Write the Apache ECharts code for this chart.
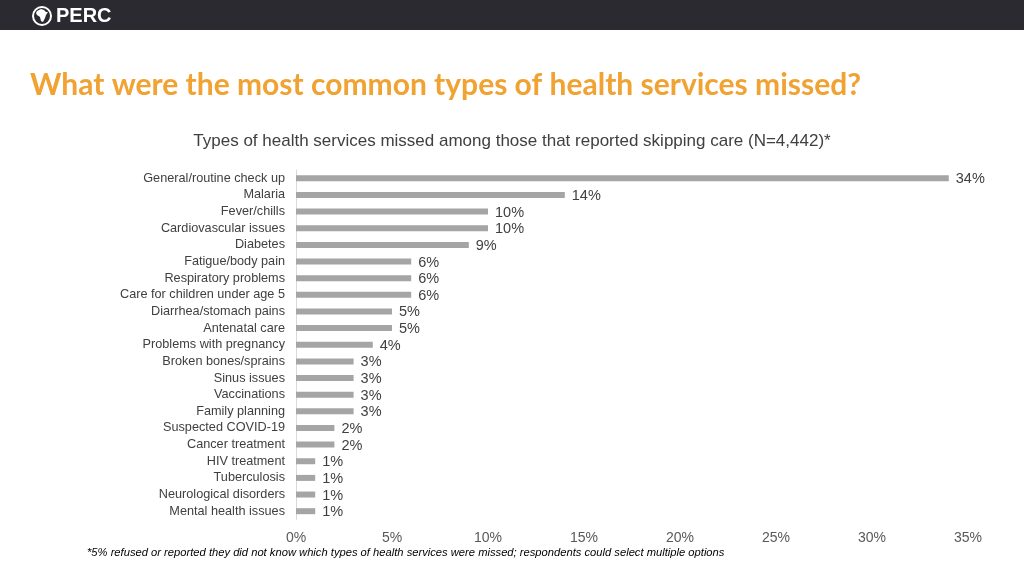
<!DOCTYPE html>
<html>
<head>
<meta charset="utf-8">
<script src="https://cdn.jsdelivr.net/npm/echarts@6/dist/echarts.min.js"></script>
<style>
html,body{margin:0;padding:0;background:#fff;}
#chart{width:1024px;height:576px;}
</style>
</head>
<body>
<div id="chart"></div>
<script>
const categories = [
  "General/routine check up","Malaria","Fever/chills","Cardiovascular issues","Diabetes",
  "Fatigue/body pain","Respiratory problems","Care for children under age 5","Diarrhea/stomach pains",
  "Antenatal care","Problems with pregnancy","Broken bones/sprains","Sinus issues","Vaccinations",
  "Family planning","Suspected COVID-19","Cancer treatment","HIV treatment","Tuberculosis",
  "Neurological disorders","Mental health issues"
];
const values = [34,14,10,10,9,6,6,6,5,5,4,3,3,3,3,2,2,1,1,1,1];
const xTicks = { min: 0, max: 35, interval: 5 };
const titleText = "What were the most common types of health services missed?";
const subtitleText = "Types of health services missed among those that reported skipping care (N=4,442)*";
const footnoteText = "*5% refused or reported they did not know which types of health services were missed; respondents could select multiple options";

const chart = echarts.init(document.getElementById('chart'));
chart.setOption({
  backgroundColor: '#ffffff',
  animation: false,
  graphic: [
    { type: 'rect', shape: { x: 0, y: 0, width: 1024, height: 30 }, style: { fill: '#2a2a30' } },
    { type: 'circle', shape: { cx: 42, cy: 16, r: 9 }, style: { fill: '#2a2a30', stroke: '#ffffff', lineWidth: 2 } },
    { type: 'polygon', shape: { points: [[37,11],[41,9],[44,10],[46,12],[48,12],[46,15],[45,18],[43,22],[41,21],[40,17],[37,15],[36,13]] }, style: { fill: '#ffffff' } },
    { type: 'text', left: 56, top: 6, style: { text: 'PERC', fill: '#ffffff', font: 'bold 20px "Liberation Sans", Arial, sans-serif' } },
    { type: 'text', left: 30, top: 70, style: { text: titleText, fill: '#f0a232', font: 'bold 30px Lato, "Open Sans", sans-serif' } },
    { type: 'text', left: 'center', top: 133, style: { text: subtitleText, fill: '#404040', font: '17px "Liberation Sans", Arial, sans-serif' } },
    { type: 'text', left: 87, top: 547, style: { text: footnoteText, fill: '#000000', font: 'italic 11.2px "Liberation Sans", Arial, sans-serif' } }
  ],
  grid: { left: 296, right: 56, top: 170, bottom: 56.5, containLabel: false },
  xAxis: {
    type: 'value', min: xTicks.min, max: xTicks.max, interval: xTicks.interval,
    axisLine: { show: false }, axisTick: { show: false }, splitLine: { show: false },
    axisLabel: { formatter: '{value}%', color: '#595959', fontSize: 14, fontFamily: '"Liberation Sans", Arial, sans-serif', margin: 12 }
  },
  yAxis: {
    type: 'category', data: categories, inverse: true,
    axisLine: { show: true, lineStyle: { color: '#d9d9d9', width: 1 } },
    axisTick: { show: false },
    axisLabel: { interval: 0, color: '#404040', fontSize: 12.7, fontFamily: '"Liberation Sans", Arial, sans-serif', margin: 11 }
  },
  series: [{
    type: 'bar', data: values, barWidth: 6,
    itemStyle: { color: '#a5a5a5' },
    label: { show: true, position: 'right', distance: 7, formatter: '{c}%', color: '#404040', fontSize: 14.5, fontFamily: '"Liberation Sans", Arial, sans-serif', offset: [0, 1] }
  }]
});
</script>
</body>
</html>
